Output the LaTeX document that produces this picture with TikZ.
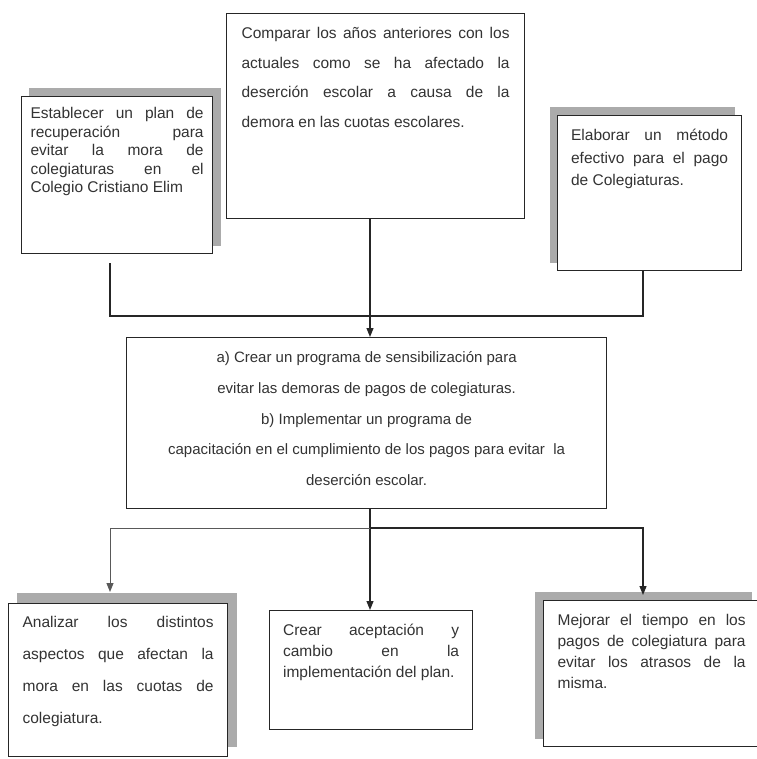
\documentclass[tikz,border=0pt]{standalone}
\usepackage{fontspec}
\setmainfont{Liberation Sans}
\usetikzlibrary{arrows.meta,backgrounds,calc}
\newcommand\bt[6]{\parbox[t][#2][t]{#1}{\fontsize{#3}{#4}\selectfont\parskip=0pt\relax\rule{0pt}{#5}#6}}
\newcommand\jl[1]{\makebox[\linewidth][s]{#1}\par}
\tikzset{
  box/.style={draw=black!85, line width=1.2pt, fill=white, inner ysep=0pt, anchor=north west, text=black!80},
  boxshadow/.style={fill=black!33},
  conn/.style={draw=black!85, line width=1.1pt},
  connl/.style={draw=black!65, line width=1.0pt},
  arr/.style={-{Triangle[length=9pt,width=7pt]}},
}
\begin{document}
\begin{tikzpicture}[x=1pt,y=-1pt]
\useasboundingbox (0,0) rectangle (756,759);
% boxes
\node[box, inner xsep=15pt] (tp) at (226,13) {\bt{268pt}{205pt}{15.5pt}{29.5pt}{25pt}{\jl{Comparar los años anteriores con los}\jl{actuales como se ha afectado la}\jl{deserción escolar a causa de la}demora en las cuotas escolares.}};
\node[box, inner xsep=9pt] (lt) at (21,96) {\bt{173pt}{157pt}{15.5pt}{18.5pt}{22pt}{\jl{Establecer un plan de}\jl{recuperación para}\jl{evitar la mora de}\jl{colegiaturas en el}Colegio Cristiano Elim}};
\node[box, inner xsep=13.5pt] (rt) at (557,115) {\bt{157pt}{155pt}{15.5pt}{22.5pt}{25pt}{\jl{Elaborar un método}\jl{efectivo para el pago}de Colegiaturas.}};
\node[box, inner xsep=10pt] (md) at (126,337) {\bt{460pt}{171pt}{15pt}{30.7pt}{25pt}{\centering a) Crear un programa de sensibilización para\par evitar las demoras de pagos de colegiaturas.\par b) Implementar un programa de\par capacitación en el cumplimiento de los pagos para evitar\ \ la\par deserción escolar.}};
\node[box, inner xsep=14pt] (bl) at (8,603) {\bt{191pt}{153pt}{15.5pt}{32pt}{24pt}{\jl{Analizar los distintos}\jl{aspectos que afectan la}\jl{mora en las cuotas de}colegiatura.}};
\node[box, inner xsep=13.5pt] (bm) at (269,610) {\bt{176pt}{119pt}{15.5pt}{21pt}{25pt}{\jl{Crear aceptación y}\jl{cambio en la}implementación del plan.}};
\node[box, inner xsep=14pt] (br) at (543,600) {\bt{188pt}{146pt}{15.5pt}{21pt}{25pt}{\jl{Mejorar el tiempo en los}\jl{pagos de colegiatura para}\jl{evitar los atrasos de la}misma.}};
% shadows
\begin{scope}[on background layer]
\fill[white] (0,0) rectangle (756,759);
\fill[boxshadow] ([shift={(8,-8)}]lt.south west) rectangle ([shift={(8,-8)}]lt.north east);
\fill[boxshadow] ([shift={(-7,-8)}]rt.south west) rectangle ([shift={(-7,-8)}]rt.north east);
\fill[boxshadow] ([shift={(9,-10)}]bl.south west) rectangle ([shift={(9,-10)}]bl.north east);
\fill[boxshadow] ([shift={(-8,-8)}]br.south west) rectangle ([shift={(-8,-8)}]br.north east);
\end{scope}
% connectors
\coordinate (cx) at (370,0);
\coordinate (lx) at (110,263);
\coordinate (rx) at (643,0);
\coordinate (h1) at (0,316);
\coordinate (h2) at (0,528);
\draw[conn] (lx) |- (rx |- h1) -- (rx |- rt.south);
\draw[conn, arr] (cx |- tp.south) -- (cx |- md.north);
\draw[conn, arr] (cx |- md.south) -- (cx |- bm.north);
\draw[connl, arr] (cx |- h2) -| ($(bl.north -| lx)+(0,-11)$);
\draw[conn, arr] (cx |- h2) -| ($(br.north -| rx)+(0,-5)$);
\end{tikzpicture}
\end{document}
